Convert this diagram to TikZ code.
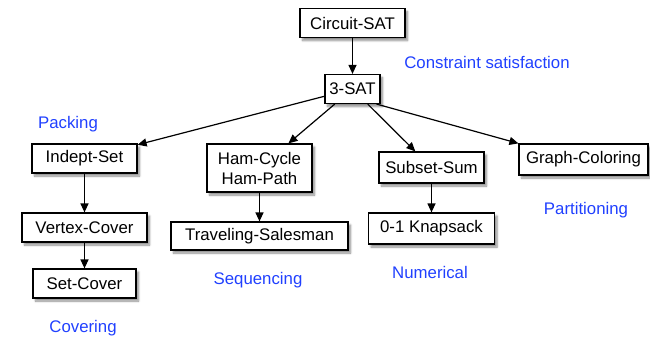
\documentclass[tikz,border=0pt]{standalone}
\usepackage{fontspec}
\setmainfont{Liberation Sans}
\usepackage{tikz}
\usetikzlibrary{positioning,arrows.meta,shadows.blur}

\definecolor{classblue}{RGB}{32,64,255}

\tikzset{
  probbox/.style={draw, line width=1.2pt, fill=white, inner sep=0pt,
    minimum height=29pt, font=\fontsize{16.8}{20}\selectfont,
    blur shadow={shadow xshift=2.5pt, shadow yshift=-3pt, shadow blur steps=6, shadow opacity=45}},
  classlbl/.style={text=classblue, inner sep=0pt, font=\fontsize{16.8}{20}\selectfont},
}

\begin{document}
\begin{tikzpicture}[x=1pt,y=-1pt,on grid,>={Triangle[length=9pt,width=8pt]},line width=1.2pt]
     \useasboundingbox (0,0) rectangle (650,339);
     \node[probbox, minimum width=105pt] (circuit) at (352.5,23) {Circuit-SAT};
     \node[probbox, minimum width=55pt] (sat) [below=66pt of circuit] {3-SAT};
     \node[probbox, minimum width=105pt] (indset) at (84.5,158.5) {Indept-Set};
     \node[probbox, minimum width=105pt, minimum height=48pt, align=center] (hampath) at (259.5,168) {Ham-Cycle\\Ham-Path};
     \node[probbox, minimum width=105pt, minimum height=31pt] (subsum) at (431.5,167.5) {Subset-Sum};
     \node[probbox, minimum width=129pt, minimum height=31pt] (gcolor) at (583.5,159.5) {Graph-Coloring};
     \node[probbox, minimum width=125pt] (vcover) [below=69pt of indset] {Vertex-Cover};
     \node[probbox, minimum width=103pt] (setcover) [below=56pt of vcover] {Set-Cover};
     \node[probbox, minimum width=177pt, minimum height=28pt] (tsp) [below=68pt of hampath] {Traveling-Salesman};
     \node[probbox, minimum width=126pt, minimum height=31pt] (knap) [below=61pt of subsum] {0-1 Knapsack};

     \node[classlbl] (lcons) at (487,62) {Constraint satisfaction};
     \node[classlbl] (lpack) at (68,124) {Packing};
     \node[classlbl] (lcover) at (83,328) {Covering};
     \node[classlbl] (lseq) at (258,280) {Sequencing};
     \node[classlbl] (lnum) at (430,272) {Numerical};
     \node[classlbl] (lpart) at (586,210) {Partitioning};

      \path[->]
      (circuit) edge (sat)
      (sat) edge (indset)
            edge (hampath)
            edge (subsum)
      ([xshift=-4pt]sat.south east) edge (gcolor.north west)
      (indset) edge (vcover)
      (vcover) edge (setcover)
      (hampath) edge (tsp)
      (subsum) edge (knap);
    \end{tikzpicture}
\end{document}
